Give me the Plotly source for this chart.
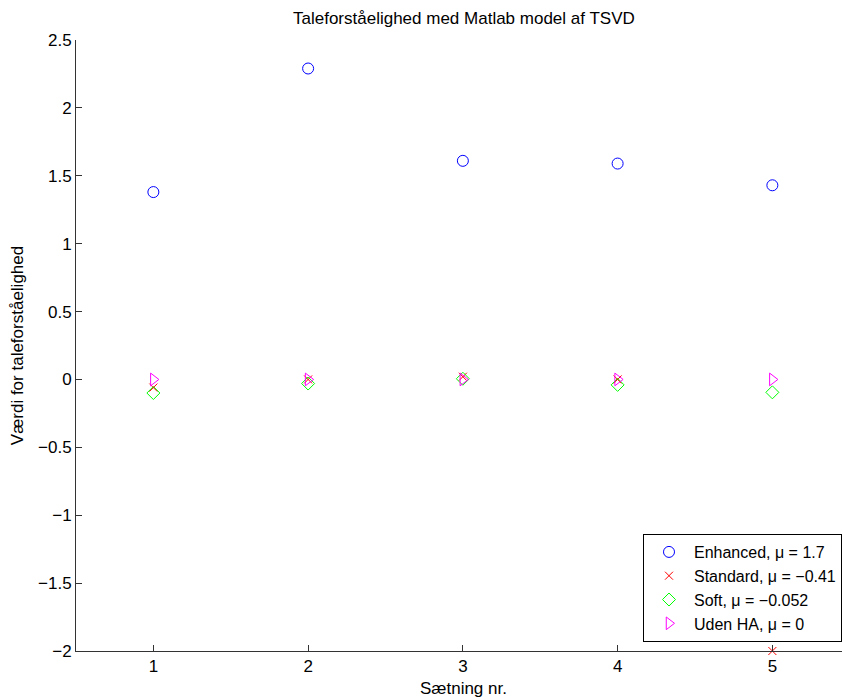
import plotly.graph_objects as go

# Sentence numbers and intelligibility scores per processing method
saetning = [1, 2, 3, 4, 5]
enhanced = [1.38, 2.29, 1.61, 1.59, 1.43]
standard = [-0.06, 0.0, 0.02, 0.0, -2.0]
soft = [-0.10, -0.03, 0.005, -0.04, -0.095]
uden_ha = [0.0, 0.0, 0.0, 0.0, 0.0]

series_names = [
    "Enhanced, μ = 1.7",
    "Standard, μ = −0.41",
    "Soft, μ = −0.052",
    "Uden HA, μ = 0",
]

y_ticks = [-2, -1.5, -1, -0.5, 0, 0.5, 1, 1.5, 2, 2.5]
y_ticktext = [("−" + f"{abs(v):g}") if v < 0 else f"{v:g}" for v in y_ticks]
x_ticks = [1, 2, 3, 4, 5]

FONT = "Liberation Sans, Arial, Helvetica, sans-serif"
FS = 17

fig = go.Figure()
fig.add_trace(go.Scatter(
    x=saetning, y=enhanced, mode="markers", name=series_names[0],
    marker=dict(symbol="circle-open", size=11, color="#0000ff", line=dict(width=1)),
    cliponaxis=False))
fig.add_trace(go.Scatter(
    x=saetning, y=standard, mode="markers", name=series_names[1],
    marker=dict(symbol="x-thin-open", size=8, color="#ff0000", line=dict(width=1, color="#ff0000")),
    cliponaxis=False))
fig.add_trace(go.Scatter(
    x=saetning, y=soft, mode="markers", name=series_names[2],
    marker=dict(symbol="diamond-open", size=10, color="#00ff00", line=dict(width=1)),
    cliponaxis=False))
fig.add_trace(go.Scatter(
    x=saetning, y=uden_ha, mode="markers", name=series_names[3],
    marker=dict(symbol="triangle-right-open", size=11, color="#ff00ff", line=dict(width=1)),
    cliponaxis=False))

fig.update_layout(
    width=842, height=700,
    margin=dict(l=76, r=0, t=40, b=49),
    paper_bgcolor="white", plot_bgcolor="white",
    font=dict(family=FONT, size=FS, color="black"),
    showlegend=True,
    legend=dict(
        x=1, y=0.0147, xanchor="right", yanchor="bottom",
        bordercolor="black", borderwidth=1, bgcolor="white",
        font=dict(size=16), tracegroupgap=0, itemwidth=40,
    ),
    annotations=[
        dict(text="Taleforståelighed med Matlab model af TSVD", xref="paper", yref="paper",
             x=0.5065, y=1, yshift=10, xanchor="center", yanchor="bottom",
             showarrow=False, font=dict(size=FS)),
        dict(text="Sætning nr.", xref="paper", yref="paper",
             x=0.5065, y=0, yshift=-26, xanchor="center", yanchor="top",
             showarrow=False, font=dict(size=FS)),
    ],
)

fig.update_xaxes(
    range=[0.5, 5.45], tickvals=x_ticks, ticktext=[str(v) for v in x_ticks],
    tickfont=dict(size=FS),
    showgrid=False, zeroline=False, showline=True, linecolor="#333", linewidth=1,
    ticks="inside", ticklen=6, tickcolor="#333", mirror=False,
)
fig.update_yaxes(
    range=[-2, 2.5], tickvals=y_ticks, ticktext=y_ticktext,
    tickfont=dict(size=FS),
    showgrid=False, zeroline=False, showline=True, linecolor="#333", linewidth=1,
    ticks="inside", ticklen=6, tickcolor="#333", mirror=False,
    title=dict(text="Værdi for taleforståelighed", standoff=10, font=dict(size=FS)),
)

fig.write_html("out.html")
